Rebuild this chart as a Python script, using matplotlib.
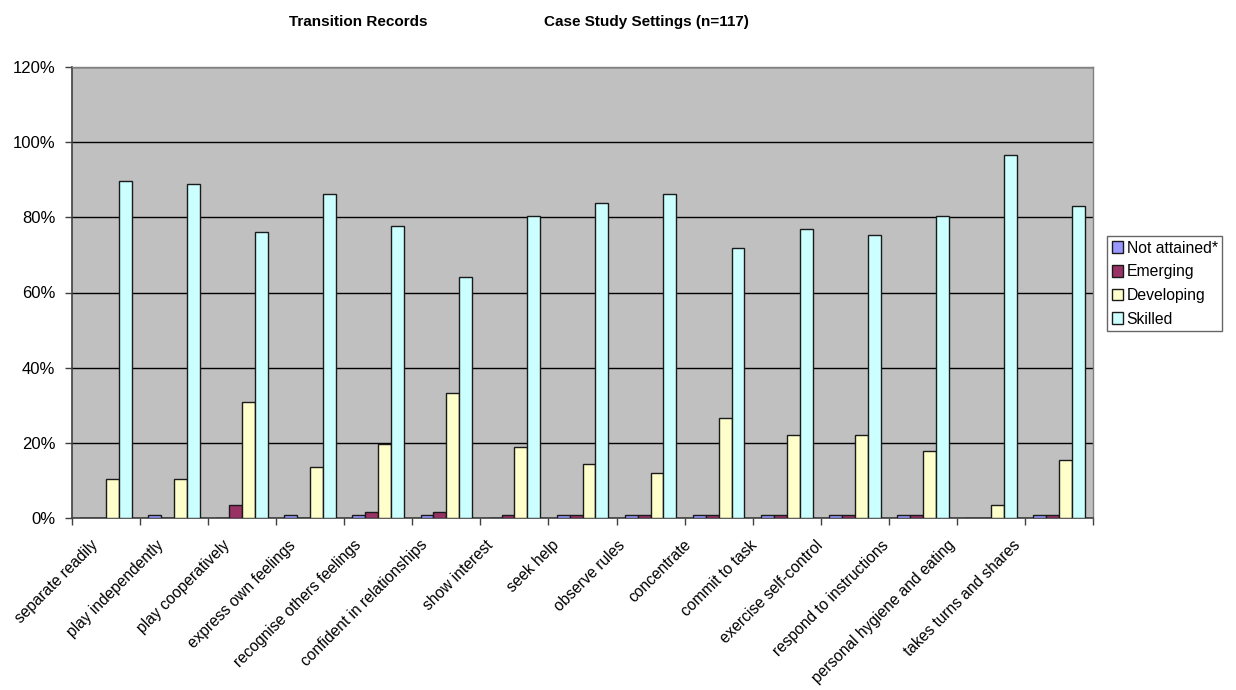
import matplotlib
matplotlib.use("Agg")
import matplotlib.pyplot as plt
import matplotlib.transforms as mtransforms
import numpy as np
from matplotlib.ticker import PercentFormatter, FixedLocator

plt.rcParams['font.family'] = ['Liberation Sans', 'DejaVu Sans']

categories = [
    "separate readily", "play independently", "play cooperatively",
    "express own feelings", "recognise others feelings",
    "confident in relationships", "show interest", "seek help",
    "observe rules", "concentrate", "commit to task",
    "exercise self-control", "respond to instructions",
    "personal hygiene and eating", "takes turns and shares",
]

# Share of the 117 children at each stage (percent)
not_attained = [0.0, 0.9, 0.0, 0.9, 0.9, 0.9, 0.0, 0.9, 0.9, 0.9, 0.9, 0.9, 0.9, 0.0, 0.9]
emerging     = [0.0, 0.0, 3.4, 0.0, 1.7, 1.7, 0.9, 0.9, 0.9, 0.9, 0.9, 0.9, 0.9, 0.0, 0.9]
developing   = [10.3, 10.3, 30.8, 13.7, 19.7, 33.3, 18.8, 14.5, 12.0, 26.5, 22.2, 22.2, 17.9, 3.4, 15.4]
skilled      = [89.7, 88.9, 76.1, 86.3, 77.8, 64.1, 80.3, 83.8, 86.3, 71.8, 76.9, 75.2, 80.3, 96.6, 82.9]

series_names = ["Not attained*", "Emerging", "Developing", "Skilled"]
series_values = [not_attained, emerging, developing, skilled]
series_colors = ["#9999FF", "#993366", "#FFFFCC", "#CCFFFF"]

DPI = 100
fig = plt.figure(figsize=(12.36, 6.9), dpi=DPI)
ax = fig.add_axes([72 / 1236, 172 / 690, (1093 - 72) / 1236, (518 - 67) / 690])
ax.set_facecolor("#C0C0C0")

x = np.arange(len(categories))
width = 0.19
offsets = (np.arange(4) - 1.5) * width
for name, vals, col, off in zip(series_names, series_values, series_colors, offsets):
    ax.bar(x + off, vals, width=width, color=col, edgecolor="#1a1a1a",
           linewidth=1.0, label=name, zorder=3)

ax.set_xlim(-0.5, len(categories) - 0.5)
ax.set_ylim(0, 120)
ax.set_yticks(np.arange(0, 121, 20))
ax.yaxis.set_major_formatter(PercentFormatter(decimals=0))
ax.grid(axis="y", color="black", linewidth=1.0, zorder=1)
ax.set_axisbelow(True)

# category labels under each group, tick marks on group boundaries
ax.set_xticks(x)
ax.set_xticklabels(categories, rotation=45, ha="right", va="top",
                   rotation_mode="anchor", fontsize=11.2)
ax.tick_params(axis="x", which="major", length=0, pad=14)
ax.xaxis.set_minor_locator(FixedLocator(np.arange(-0.5, len(categories), 1.0)))
ax.tick_params(axis="x", which="minor", length=5, width=1, color="#404040")
ax.tick_params(axis="y", length=5, width=1, color="#404040", labelsize=12, pad=7)

# rotated labels sit slightly left of their group, drifting with position
for i, lab in enumerate(ax.get_xticklabels()):
    dx = (-16 - 2.15 * i) / DPI
    lab.set_transform(lab.get_transform() +
                      mtransforms.ScaledTranslation(dx, 0, fig.dpi_scale_trans))

for side in ["left", "bottom"]:
    ax.spines[side].set_color("#404040")
    ax.spines[side].set_linewidth(1.2)
for side in ["top", "right"]:
    ax.spines[side].set_color("#808080")
    ax.spines[side].set_linewidth(1.0)

fig.text(358 / 1236, 1 - 22 / 690, "Transition Records", ha="center", va="center",
         fontsize=11, fontweight="bold")
fig.text(646 / 1236, 1 - 22 / 690, "Case Study Settings (n=117)", ha="center",
         va="center", fontsize=11, fontweight="bold")

leg = fig.legend(loc="upper left", bbox_to_anchor=(1107 / 1236, 1 - 236 / 690),
                 fontsize=11.3, frameon=True, fancybox=False, handlelength=0.75,
                 handleheight=0.75, handletextpad=0.2, borderpad=0.3,
                 labelspacing=0.55, borderaxespad=0)
leg.get_frame().set_edgecolor("#404040")
leg.get_frame().set_linewidth(1.0)

fig.savefig("out.png", dpi=DPI, facecolor="white")
